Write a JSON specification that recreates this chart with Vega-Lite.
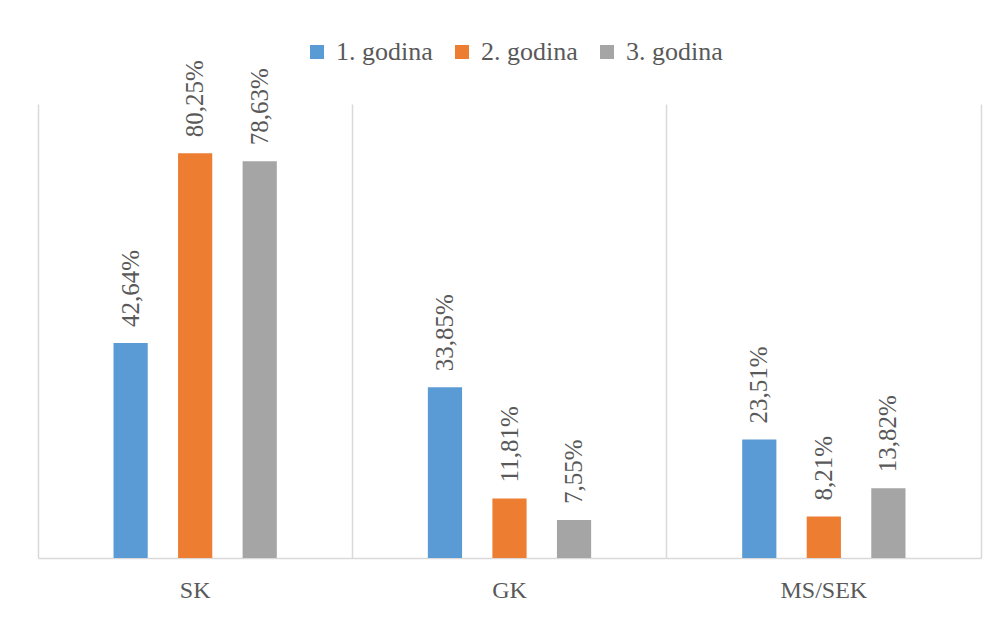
{
  "$schema": "https://vega.github.io/schema/vega-lite/v6.json",
  "width": 943,
  "height": 454,
  "autosize": "none",
  "padding": {"left": 38, "top": 104, "right": 16, "bottom": 59},
  "background": "white",
  "config": {
    "locale": {"number": {"decimal": ",", "thousands": ".", "grouping": [3], "currency": ["", " €"]}},
    "view": {"stroke": null},
    "font": "Liberation Serif"
  },
  "data": {
    "values": [
      {"kategorija": "SK", "godina": "1. godina", "udio": 0.4264},
      {"kategorija": "SK", "godina": "2. godina", "udio": 0.8025},
      {"kategorija": "SK", "godina": "3. godina", "udio": 0.7863},
      {"kategorija": "GK", "godina": "1. godina", "udio": 0.3385},
      {"kategorija": "GK", "godina": "2. godina", "udio": 0.1181},
      {"kategorija": "GK", "godina": "3. godina", "udio": 0.0755},
      {"kategorija": "MS/SEK", "godina": "1. godina", "udio": 0.2351},
      {"kategorija": "MS/SEK", "godina": "2. godina", "udio": 0.0821},
      {"kategorija": "MS/SEK", "godina": "3. godina", "udio": 0.1382}
    ]
  },
  "encoding": {
    "x": {
      "field": "kategorija",
      "type": "nominal",
      "sort": ["SK", "GK", "MS/SEK"],
      "scale": {"paddingInner": 0, "paddingOuter": 0},
      "axis": {
        "title": null,
        "labelAngle": 0,
        "labelFont": "Liberation Serif",
        "labelFontSize": 24,
        "labelColor": "#595959",
        "labelPadding": 20,
        "ticks": false,
        "domainColor": "#d9d9d9",
        "domainWidth": 1.5,
        "grid": true,
        "gridColor": "#d9d9d9",
        "gridWidth": 1.5,
        "bandPosition": 1,
        "tickExtra": true
      }
    },
    "xOffset": {
      "field": "godina",
      "type": "nominal",
      "scale": {"domain": ["_a", "1. godina", "2. godina", "3. godina", "_b"], "paddingInner": 0.47, "paddingOuter": 0.17}
    },
    "y": {
      "field": "udio",
      "type": "quantitative",
      "scale": {"domain": [0, 0.9], "nice": false, "zero": true},
      "axis": null
    }
  },
  "layer": [
    {
      "mark": {"type": "bar"},
      "encoding": {
        "color": {
          "field": "godina",
          "type": "nominal",
          "scale": {"domain": ["1. godina", "2. godina", "3. godina"], "range": ["#5B9BD5", "#ED7D31", "#A5A5A5"]},
          "legend": {
            "title": null,
            "orient": "none",
            "direction": "horizontal",
            "legendX": 266,
            "legendY": -65,
            "padding": 0,
            "symbolType": "square",
            "symbolSize": 196,
            "symbolStrokeWidth": 0,
            "symbolOpacity": 1,
            "labelFont": "Liberation Serif",
            "labelFontSize": 26,
            "labelColor": "#595959",
            "labelOffset": 6,
            "columnPadding": 16
          }
        }
      }
    },
    {
      "mark": {
        "type": "text",
        "angle": 270,
        "align": "left",
        "baseline": "middle",
        "dx": 16,
        "font": "Liberation Serif",
        "fontSize": 25,
        "color": "#595959"
      },
      "encoding": {
        "text": {"field": "udio", "type": "quantitative", "format": ".2%"}
      }
    }
  ]
}
